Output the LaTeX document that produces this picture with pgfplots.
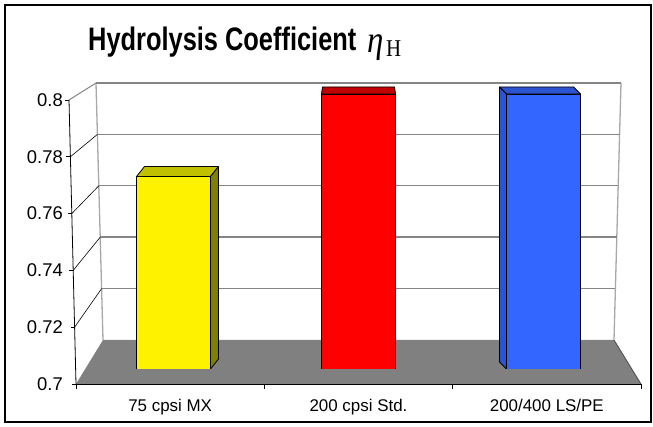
\documentclass[border=0pt]{standalone}
\usepackage{fontspec}
\setmainfont{Liberation Sans}
\newfontfamily\timesfont{Liberation Serif}
\usepackage{graphicx}
\usepackage{pgfplots}
\pgfplotsset{compat=1.18}
\definecolor{floorgray}{HTML}{808080}
\definecolor{gridgray}{HTML}{858585}
\definecolor{edgegray}{HTML}{A8A8A8}
\definecolor{ytop}{HTML}{C0C000}
\definecolor{yside}{HTML}{808000}
\definecolor{rtop}{HTML}{C00000}
\definecolor{bfront}{HTML}{3366FF}
\definecolor{btop}{HTML}{2C54D0}
\begin{document}
\begin{tikzpicture}
\useasboundingbox (0,0) rectangle (653bp,427bp);
\fill[white] (0,0) rectangle (653bp,427bp);
\begin{scope}[x=1bp,y=-1bp,yshift=427bp]
  \draw[line width=2.5bp] (5,5) rectangle (651,422);
  % floor
  \fill[floorgray] (76,384) -- (103,340) -- (614,340) -- (641,384) -- cycle;
  \draw[black!70, line width=0.8bp] (614,340) -- (641,384);
  % back wall edges
  \draw[edgegray, line width=1.3bp] (96,83) -- (103,340);
  \draw[edgegray, line width=1.3bp] (621,83) -- (614,340);
  \foreach \k in {1,...,5} {
    \pgfmathsetmacro\yb{340-\k*257/5}
    \pgfmathsetmacro\xl{103-\k*7/5}
    \pgfmathsetmacro\xr{614+\k*7/5}
    \pgfmathsetmacro\yf{384-\k*284/5}
    \pgfmathsetmacro\xf{76-\k*7/5}
    \draw[gridgray, line width=1.4bp] (\xl,\yb) -- (\xr,\yb);
    \ifnum\k=5
      \draw[gridgray, line width=1.0bp] (\xf,\yf) -- (\xl,\yb);
    \else
      \draw[black, line width=0.6bp] (\xf,\yf) -- (\xl,\yb);
    \fi
  }
  % front value axis
  \draw[black, line width=0.8bp] (69,100) -- (76,384);
  \foreach \k in {0,...,5} {
    \pgfmathsetmacro\yf{384-\k*284/5}
    \pgfmathsetmacro\xf{76-\k*7/5}
    \draw[black, line width=0.8bp] (\xf,\yf) -- ++(-4,0);
  }
  % category axis
  \draw[black, line width=0.8bp] (76,384) -- (641,384);
  \foreach \j in {0,...,3} {
    \pgfmathsetmacro\xx{76+\j*565/3}
    \draw[black, line width=0.8bp] (\xx,384) -- (\xx,389);
  }
  % title
  \node[anchor=base west, inner sep=0pt] at (88,51) {\scalebox{1}[1.28]{\fontsize{25.5}{30}\selectfont\bfseries Hydrolysis Coefficient}};
  \node[anchor=base west, inner sep=0pt] at (367,53) {\scalebox{1}[1.15]{\timesfont\fontsize{33}{36}\selectfont\itshape η}};
  \node[anchor=base west, inner sep=0pt] at (386,57) {\scalebox{1}[1.15]{\timesfont\fontsize{21}{24}\selectfont H}};
\end{scope}

% front plane: tick labels
\begin{axis}[at={(76bp,43bp)}, anchor=south west, scale only axis,
  width=565bp, height=284bp, xmin=0, xmax=3, ymin=0.7, ymax=0.8,
  axis line style={draw=none}, major tick length=0pt,
  xtick={0.5,1.5,2.5},
  xticklabels={75 cpsi MX,200 cpsi Std.,200/400 LS/PE},
  ytick={0.7,0.72,0.74,0.76,0.78,0.8},
  /pgf/number format/assume math mode=true,
  yticklabel style={font=\fontsize{18.5}{20}\selectfont, anchor=east, inner sep=0pt, xshift=-13bp},
  xticklabel style={font=\fontsize{17}{20}\selectfont, anchor=base, inner sep=0pt, yshift=-28bp}]
\addplot[draw=none] coordinates {(0,0.7) (3,0.8)};
\end{axis}

% bar plane
\begin{axis}[at={(81bp,58bp)}, anchor=south west, scale only axis,
  width=555bp, height=330bp, xmin=0, xmax=3, ymin=0.7, ymax=0.82,
  hide axis, bar width=74bp]
\addplot[ybar, bar shift=0pt, fill=yellow, draw=black, line width=0.8bp] coordinates {(0.5,0.77)};
\addplot[ybar, bar shift=0pt, fill=red, draw=black, line width=0.8bp] coordinates {(1.5,0.80)};
\addplot[ybar, bar shift=0pt, fill=bfront, draw=black, line width=0.8bp] coordinates {(2.5,0.80)};
% yellow 3D faces
\filldraw[fill=ytop, draw=black, line width=0.8bp, line join=round]
  ([xshift=-37bp]axis cs:0.5,0.77) -- ([xshift=37bp]axis cs:0.5,0.77) --
  ([xshift=45bp,yshift=10bp]axis cs:0.5,0.77) -- ([xshift=-29bp,yshift=10bp]axis cs:0.5,0.77) -- cycle;
\filldraw[fill=yside, draw=black, line width=0.8bp, line join=round]
  ([xshift=37bp]axis cs:0.5,0.77) -- ([xshift=37bp]axis cs:0.5,0.7) --
  ([xshift=45bp,yshift=10bp]axis cs:0.5,0.7) -- ([xshift=45bp,yshift=10bp]axis cs:0.5,0.77) -- cycle;
% red 3D face
\filldraw[fill=rtop, draw=black, line width=0.8bp, line join=round]
  ([xshift=-37bp]axis cs:1.5,0.80) -- ([xshift=37bp]axis cs:1.5,0.80) --
  ([xshift=36bp,yshift=7bp]axis cs:1.5,0.80) -- ([xshift=-36bp,yshift=7bp]axis cs:1.5,0.80) -- cycle;
% blue 3D faces
\filldraw[fill=btop, draw=black, line width=0.8bp, line join=round]
  ([xshift=-37bp]axis cs:2.5,0.80) -- ([xshift=37bp]axis cs:2.5,0.80) --
  ([xshift=30bp,yshift=7bp]axis cs:2.5,0.80) -- ([xshift=-44bp,yshift=7bp]axis cs:2.5,0.80) -- cycle;
\filldraw[fill=btop, draw=black, line width=0.8bp, line join=round]
  ([xshift=-37bp]axis cs:2.5,0.80) -- ([xshift=-37bp]axis cs:2.5,0.7) --
  ([xshift=-44bp,yshift=7bp]axis cs:2.5,0.7) -- ([xshift=-44bp,yshift=7bp]axis cs:2.5,0.80) -- cycle;
\end{axis}
\end{tikzpicture}
\end{document}
